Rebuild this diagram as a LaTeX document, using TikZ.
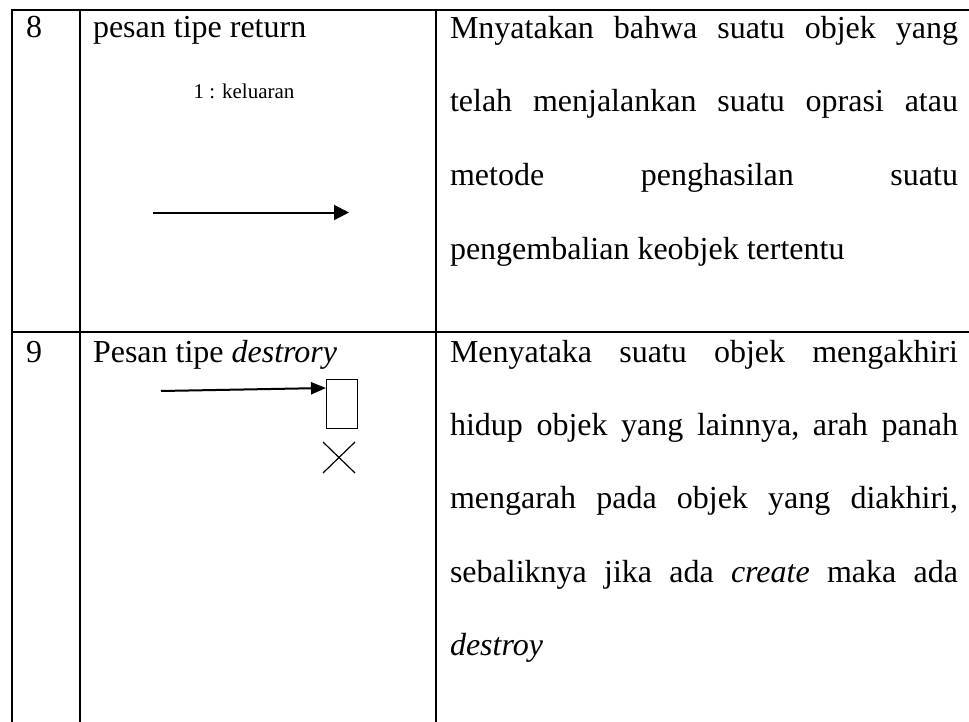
\documentclass[tikz,border=0pt]{standalone}
\usepackage{fontspec}
\setmainfont{Liberation Serif}
\usetikzlibrary{arrows.meta}
\newcommand{\jline}[1]{\hbox to 508bp{#1}}
\begin{document}
\begin{tikzpicture}[x=1bp,y=-1bp,
  grid/.style={line width=2.4bp, line cap=rect},
  txt/.style={anchor=base west, inner sep=0pt, outer sep=0pt, font=\fontsize{32bp}{38bp}\selectfont},
  small/.style={anchor=base, inner sep=0pt, font=\fontsize{21bp}{25bp}\selectfont},
  msg/.style={line width=2bp, -{Triangle[length=15bp,width=15bp]}},
  thin/.style={line width=1.2bp}]
\useasboundingbox (0,0) rectangle (969,722);
% table grid
\coordinate (tl) at (12,10);
\coordinate (tr) at (969,10);
\coordinate (bl) at (12,722);
\coordinate (c1t) at (80,10);
\coordinate (c1b) at (80,722);
\coordinate (c2t) at (436,10);
\coordinate (c2b) at (436,722);
\coordinate (rl) at (12,332);
\coordinate (rr) at (969,332);
\draw[grid] (tl) -- (tr);
\draw[grid] (rl) -- (rr);
\draw[grid] (tl) -- (bl);
\draw[grid] (c1t) -- (c1b);
\draw[grid] (c2t) -- (c2b);
% row 8
\node[txt] (n8) at (26,38) {8};
\node[txt] (h8) at (93,38) {pesan tipe return};
\node[small] (lbl) at (244,99) {1 : keluaran};
\coordinate (a1s) at (153,212.5);
\coordinate (a1e) at (349,212.5);
\draw[msg] (a1s) -- (a1e);
\node[txt] (d8a) at (450,39) {\jline{Mnyatakan\hfill bahwa\hfill suatu\hfill objek\hfill yang}};
\node[txt] (d8b) at (450,112) {\jline{telah\hfill menjalankan\hfill suatu\hfill oprasi\hfill atau}};
\node[txt] (d8c) at (450,185.5) {\jline{metode\hfill penghasilan\hfill suatu}};
\node[txt] (d8d) at (450,259) {pengembalian keobjek tertentu};
% row 9
\node[txt] (n9) at (26,362) {9};
\node[txt] (h9) at (93,362) {Pesan tipe \textit{destrory}};
\node[thin, draw, minimum width=31bp, minimum height=49bp, inner sep=0pt, anchor=north west] (obj) at (326,379) {};
\coordinate (a2s) at (161,391);
\draw[msg, -{Triangle[length=15bp,width=12bp]}] (a2s) -- ([yshift=-9bp]obj.north west);
\coordinate (x1) at (323,442);
\coordinate (x2) at (355,473);
\coordinate (x3) at (355,442);
\coordinate (x4) at (323,473);
\draw[thin] (x1) -- (x2);
\draw[thin] (x3) -- (x4);
\node[txt] (d9a) at (450,362) {\jline{Menyataka\hfill suatu\hfill objek\hfill mengakhiri}};
\node[txt] (d9b) at (450,435) {\jline{hidup\hfill objek\hfill yang\hfill lainnya,\hfill arah\hfill panah}};
\node[txt] (d9c) at (450,508.5) {\jline{mengarah\hfill pada\hfill objek\hfill yang\hfill diakhiri,}};
\node[txt] (d9d) at (450,582) {\jline{sebaliknya\hfill jika\hfill ada\hfill \textit{create}\hfill maka\hfill ada}};
\node[txt] (d9e) at (450,655) {\textit{destroy}};
\end{tikzpicture}
\end{document}
